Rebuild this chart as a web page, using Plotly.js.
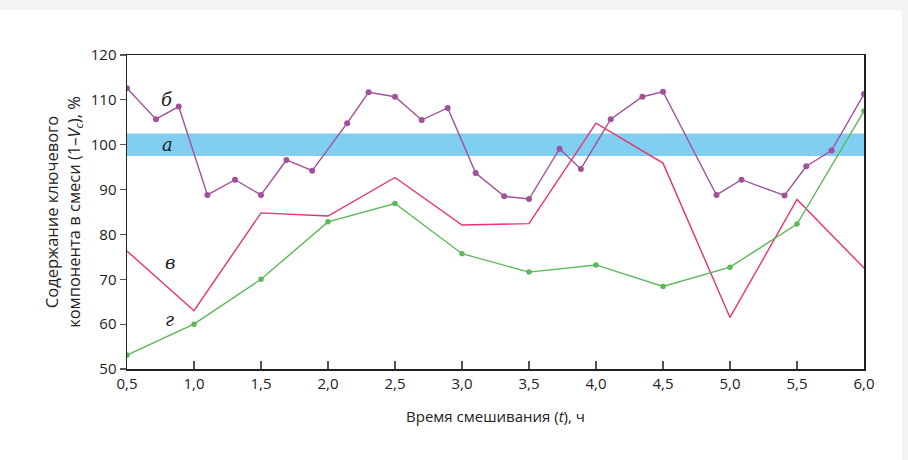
<!DOCTYPE html>
<html>
<head>
<meta charset="utf-8">
<script src="https://cdn.plot.ly/plotly-3.0.1.min.js"></script>
<style>
html,body{margin:0;padding:0;background:#f3f3f3;}
#chart{width:908px;height:460px;}
</style>
</head>
<body>
<div id="chart"></div>
<script>
// Series б (purple, with markers)
const tB = [0.5, 0.716, 0.886, 1.10, 1.306, 1.5, 1.69, 1.882, 2.143, 2.303, 2.5, 2.699, 2.893, 3.102, 3.315, 3.5, 3.728, 3.887, 4.11, 4.346, 4.5, 4.899, 5.086, 5.407, 5.569, 5.758, 6.0];
const vB = [112.6, 105.7, 108.5, 88.8, 92.2, 88.8, 96.6, 94.2, 104.8, 111.7, 110.7, 105.5, 108.2, 93.7, 88.5, 87.9, 99.1, 94.6, 105.7, 110.7, 111.8, 88.8, 92.2, 88.7, 95.2, 98.7, 111.3];
// Series в (red, no markers)
const tV = [0.5, 1.0, 1.5, 2.0, 2.5, 3.0, 3.5, 4.0, 4.5, 5.0, 5.5, 6.0];
const vV = [76.3, 63.0, 84.8, 84.1, 92.7, 82.1, 82.4, 104.8, 95.9, 61.5, 87.8, 72.5];
// Series г (green, with markers)
const tG = [0.5, 1.0, 1.5, 2.0, 2.5, 3.0, 3.5, 4.0, 4.5, 5.0, 5.5, 6.0];
const vG = [53.1, 60.0, 70.0, 82.8, 86.9, 75.7, 71.6, 73.2, 68.4, 72.7, 82.3, 107.5];
// Band а
const bandLow = 97.5;
const bandHigh = 102.5;
// Labels
const labelText = ['б', 'а', 'в', 'г'];
const labelT = [0.8, 0.8, 0.82, 0.82];
const labelV = [110.1, 100.0, 73.7, 61.0];
// Tick labels
const xTicks = [0.5, 1.0, 1.5, 2.0, 2.5, 3.0, 3.5, 4.0, 4.5, 5.0, 5.5, 6.0];
const xTickText = ['0,5', '1,0', '1,5', '2,0', '2,5', '3,0', '3,5', '4,0', '4,5', '5,0', '5,5', '6,0'];
const yTicks = [50, 60, 70, 80, 90, 100, 110, 120];

const traces = [
  {x: tV, y: vV, type: 'scatter', mode: 'lines', line: {color: '#e8336b', width: 1.4}},
  {x: tG, y: vG, type: 'scatter', mode: 'lines+markers', line: {color: '#5cb85a', width: 1.4}, marker: {color: '#5cb85a', size: 5.5}},
  {x: tB, y: vB, type: 'scatter', mode: 'lines+markers', line: {color: '#a2509c', width: 1.4}, marker: {color: '#a2509c', size: 6}}
];

const annotations = labelText.map((s, i) => ({
  x: labelT[i], y: labelV[i], xref: 'x', yref: 'y', text: '<i>' + s + '</i>', showarrow: false,
  font: {family: 'DejaVu Serif, serif', size: 18, color: '#222'}, xanchor: 'center', yanchor: 'middle'
}));

const layout = {
  width: 908, height: 460,
  paper_bgcolor: '#f3f3f3', plot_bgcolor: '#ffffff',
  margin: {l: 127, r: 44, t: 55, b: 91},
  showlegend: false,
  font: {family: 'Open Sans, sans-serif', size: 15, color: '#222'},
  xaxis: {
    range: [0.5, 6.0], tickvals: xTicks, ticktext: xTickText,
    ticks: 'inside', ticklen: 8, tickcolor: '#555', tickwidth: 1.2,
    showline: true, linecolor: '#222', linewidth: 1.5, mirror: true,
    showgrid: false, zeroline: false,
    tickfont: {family: 'Open Sans, sans-serif', size: 15, color: '#222'},
    title: {text: 'Время смешивания (<i>t</i>), ч', font: {family: 'Open Sans, sans-serif', size: 15, color: '#222'}, standoff: 20}
  },
  yaxis: {
    range: [50, 120], tickvals: yTicks,
    ticks: 'outside', ticklen: 6, tickcolor: '#555', tickwidth: 1.2,
    showline: true, linecolor: '#222', linewidth: 1.5, mirror: true,
    showgrid: false, zeroline: false,
    tickfont: {family: 'Open Sans, sans-serif', size: 15, color: '#222'},
    title: {text: 'Содержание ключевого<br>компонента в смеси (1–<i>V</i><sub><i>c</i></sub>), %', font: {family: 'Open Sans, sans-serif', size: 16.5, color: '#222'}, standoff: 6}
  },
  shapes: [
    {type: 'rect', xref: 'paper', yref: 'paper', x0: -127/737, x1: (902-127)/737, y0: -91/314, y1: 1 + 45/314,
     fillcolor: '#ffffff', line: {width: 0}, layer: 'below'},
    {type: 'rect', xref: 'paper', yref: 'y', x0: 0, x1: 1, y0: bandLow, y1: bandHigh,
     fillcolor: '#80cff2', line: {width: 0}, layer: 'below'}
  ],
  annotations: annotations
};

Plotly.newPlot('chart', traces, layout, {displayModeBar: false, staticPlot: true});
</script>
</body>
</html>
